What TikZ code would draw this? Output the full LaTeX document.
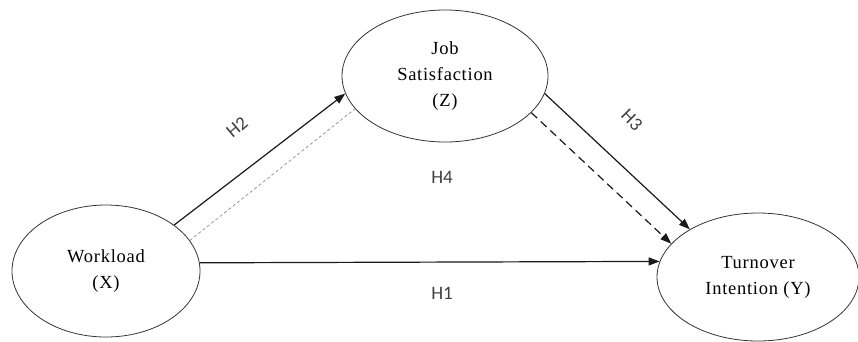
\documentclass[tikz,border=0pt]{standalone}
\usepackage{fontspec}
\usepackage{tikz}
\usetikzlibrary{arrows.meta,shapes.geometric}
\newfontfamily\ellfont[LetterSpace=4]{Liberation Serif}
\newfontfamily\hypfont{Carlito}

\begin{document}
\begin{tikzpicture}[
  x=1pt, y=-1pt,
  construct/.style={ellipse, draw=black!80, line width=0.8pt, inner sep=0pt, align=center,
                    font=\ellfont\fontsize{18.5}{26}\selectfont},
  hyp/.style={font=\hypfont\fontsize{19}{20}\selectfont, text=black!75},
  causal/.style={->, line width=1.2pt, draw=black!90},
  >={Triangle[length=11pt,width=8pt]}]
\useasboundingbox (0,0) rectangle (858,341);
\node[construct, minimum width=188pt, minimum height=132pt] (wl) at (106,271) {Workload\\(X)};
\node[construct, minimum width=206pt, minimum height=132pt] (js) at (445,76) {Job\\Satisfaction\\(Z)};
\node[construct, minimum width=202pt, minimum height=128pt] (ti) at (758,277) {Turnover\\Intention (Y)};
% direct and mediated paths
\draw[causal] (wl.34) -- (js.190);
\draw[dashed, dash pattern=on 3pt off 2.5pt, draw=black!45, line width=0.7pt] (wl.20) -- (js.200);
\draw[causal] (js.-10) -- (ti.145);
\draw[causal, dash pattern=on 8pt off 5pt] (js.-23) -- (ti.159);
\draw[causal] (wl.5) -- (ti.171);
\node[hyp, rotate=40] (h2) at (237,127) {H2};
\node[hyp, rotate=-45] (h3) at (632,120) {H3};
\node[hyp] (h4) at (442,177) {H4};
\node[hyp] (h1) at (442,293) {H1};
\end{tikzpicture}
\end{document}
